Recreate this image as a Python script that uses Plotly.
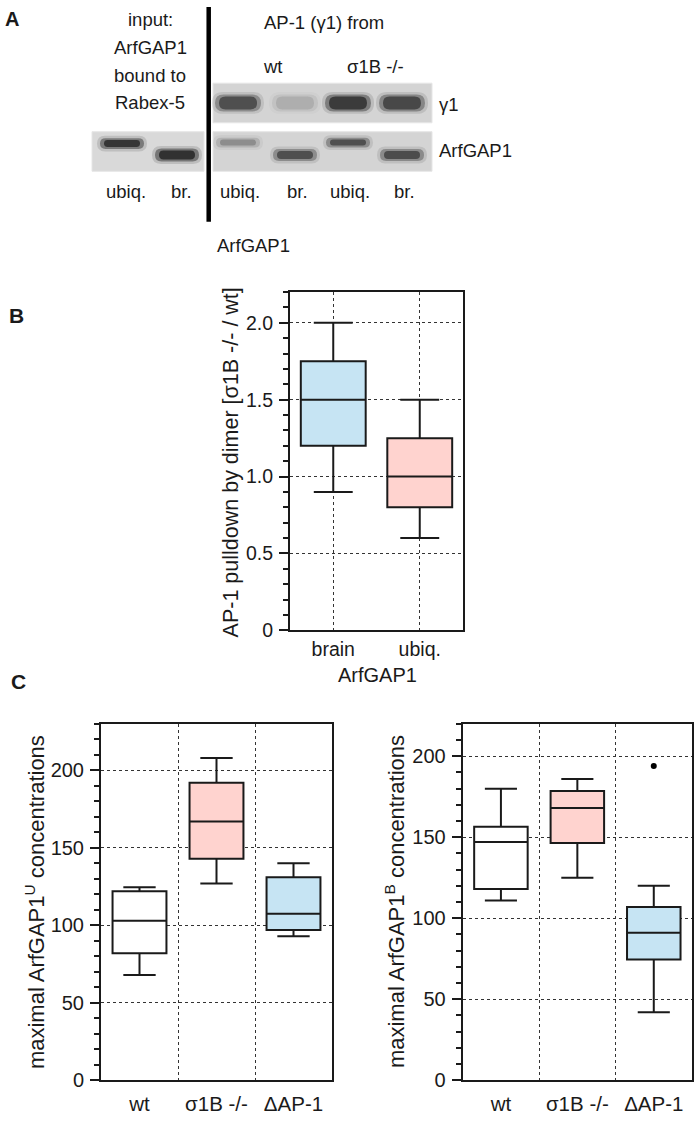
import plotly.graph_objects as go

# ---------------- data ----------------
# Panel B: AP-1 pulldown by dimer (ratio sigma1B-/- / wt)
b_categories = ["brain", "ubiq."]
b_low = [0.9, 0.6]
b_q1 = [1.2, 0.8]
b_median = [1.5, 1.0]
b_q3 = [1.75, 1.25]
b_high = [2.0, 1.5]
b_colors = ["#c6e4f3", "#ffd3cf"]

# Panel C: maximal ArfGAP1 concentrations
c_categories = ["wt", "σ1B -/-", "ΔAP-1"]
c_colors = ["#ffffff", "#ffd3cf", "#c6e4f3"]

cu_low = [68, 127, 93]
cu_q1 = [82, 143, 97]
cu_median = [103, 167, 107.5]
cu_q3 = [122, 192, 131]
cu_high = [124.5, 208, 140]

cb_low = [111, 125, 42]
cb_q1 = [118, 146.5, 74.5]
cb_median = [147, 168, 91]
cb_q3 = [156.5, 178.5, 107]
cb_high = [180, 186, 120]
cb_outlier_cat = ["ΔAP-1"]
cb_outlier_val = [194]

# Panel A: western blot band intensities (0..1)
input_lanes = ["ubiq.", "br."]
input_arfgap1 = [0.95, 1.0]
pulldown_genotypes = ["wt", "σ1B -/-"]
pulldown_lanes = ["ubiq.", "br.", "ubiq.", "br."]
pulldown_gamma1 = [0.72, 0.16, 0.9, 0.78]
pulldown_arfgap1 = [0.33, 0.72, 0.72, 0.74]

# ---------------- style / layout ----------------
W, H = 700, 1123
FONT = "Liberation Sans, Arial, Helvetica, sans-serif"
INK = "#1a1a1a"


def px(x):
    return x / W


def py(y):
    return 1 - y / H


fig = go.Figure()


def add_box(xname, yname, pos, name, lo, q1, med, q3, hi, color, width):
    fig.add_trace(go.Box(
        x=[pos], name=name, lowerfence=[lo], q1=[q1], median=[med], q3=[q3], upperfence=[hi],
        fillcolor=color, line=dict(color=INK, width=2), whiskerwidth=0.6,
        width=width, boxpoints=False, showlegend=False, hoverinfo="skip",
        xaxis=xname, yaxis=yname))


b_pos = list(range(len(b_categories)))
c_pos = list(range(len(c_categories)))

for i, c in enumerate(b_categories):
    add_box("x", "y", b_pos[i], c, b_low[i], b_q1[i], b_median[i], b_q3[i], b_high[i], b_colors[i], 0.75)
for i, c in enumerate(c_categories):
    add_box("x2", "y2", c_pos[i], c, cu_low[i], cu_q1[i], cu_median[i], cu_q3[i], cu_high[i], c_colors[i], 0.70)
for i, c in enumerate(c_categories):
    add_box("x3", "y3", c_pos[i], c, cb_low[i], cb_q1[i], cb_median[i], cb_q3[i], cb_high[i], c_colors[i], 0.70)

common_line = dict(showline=True, mirror=True, linecolor=INK, linewidth=2)
grid = dict(showgrid=True, griddash="dot", gridcolor="#333333", gridwidth=1.3)


def yaxis(anchor, domain, rng, vals, texts, minor_dtick, fsize):
    return dict(anchor=anchor, domain=domain, range=rng, tickmode="array", tickvals=vals, ticktext=texts,
                ticks="outside", ticklen=9, tickwidth=2, tickcolor=INK,
                minor=dict(tickmode="linear", tick0=0, dtick=minor_dtick, ticks="outside",
                           ticklen=5, tickwidth=2, tickcolor=INK, showgrid=False),
                tickfont=dict(family=FONT, size=fsize, color=INK), zeroline=False,
                ticklabelstandoff=2, **common_line, **grid)


def xaxis(domain, anchor, cats, fsize, boundaries, standoff):
    n = len(cats)
    d = dict(domain=domain, anchor=anchor, type="linear", range=[-0.5, n - 0.5],
             tickmode="array", tickvals=list(range(n)), ticktext=cats, ticks="",
             tickfont=dict(family=FONT, size=fsize, color=INK), zeroline=False,
             ticklabelstandoff=standoff, **common_line)
    if boundaries:
        d["showgrid"] = False
        d["minor"] = dict(tickmode="array", tickvals=[k + 0.5 for k in range(n - 1)], ticks="",
                          showgrid=True, griddash="dot", gridcolor="#333333", gridwidth=1.3)
    else:
        d.update(grid)
    return d


b_y_dom = [py(636.5), py(295)]
c_y_dom = [py(1091), py(731)]

fig.update_layout(
    width=W, height=H, autosize=False,
    margin=dict(l=0, r=0, t=0, b=0, pad=0),
    paper_bgcolor="white", plot_bgcolor="white",
    font=dict(family=FONT, color=INK),
    boxmode="overlay",
    xaxis=xaxis([px(290), px(463)], "y", b_categories, 19.5, False, 0),
    yaxis=yaxis("x", b_y_dom, [0, 2.2], [0, 0.5, 1.0, 1.5, 2.0], ["0", "0.5", "1.0", "1.5", "2.0"], 0.1, 19.5),
    xaxis2=xaxis([px(101), px(332)], "y2", c_categories, 20.5, True, 4),
    yaxis2=yaxis("x2", c_y_dom, [0, 230], [0, 50, 100, 150, 200], ["0", "50", "100", "150", "200"], 10, 20),
    xaxis3=xaxis([px(462.7), px(692)], "y3", c_categories, 20.5, True, 4),
    yaxis3=yaxis("x3", c_y_dom, [0, 220], [0, 50, 100, 150, 200], ["0", "50", "100", "150", "200"], 10, 20),
    xaxis4=dict(domain=[0, 1], range=[0, W], visible=False, anchor="y4"),
    yaxis4=dict(domain=[py(260), 1], range=[260, 0], visible=False, anchor="x4"),
)

annotations = []


def ann(text, x, y, size, xref="paper", yref="paper", xanchor="center", bold=False, angle=0):
    if xref == "paper":
        x, y = px(x), py(y)
    annotations.append(dict(text=f"<b>{text}</b>" if bold else text, x=x, y=y, xref=xref, yref=yref,
                            xanchor=xanchor, yanchor="middle", showarrow=False, textangle=angle,
                            font=dict(family=FONT, size=size, color=INK)))


# panel letters
ann("A", 12, 19, 20, bold=True)
ann("B", 16, 319, 21, bold=True)
ann("C", 18, 688, 21, bold=True)

# axis titles
ann("AP-1 pulldown by dimer [σ1B -/- / wt]", 231, 467, 21.5, angle=-90)
ann("ArfGAP1", 377, 682, 20)
ann("maximal ArfGAP1<sup>U</sup> concentrations", 35, 911, 22, angle=-90)
ann("maximal ArfGAP1<sup>B</sup> concentrations", 395, 911, 22, angle=-90)

shapes = []

# outlier points of panel C (right), placed on the data axes
for cat, val in zip(cb_outlier_cat, cb_outlier_val):
    shapes.append(dict(type="circle", xref="x3", yref="y3", xsizemode="pixel", ysizemode="pixel",
                       xanchor=c_categories.index(cat), yanchor=val, x0=-3, x1=3, y0=-3, y1=3,
                       fillcolor="black", line=dict(width=0), layer="above"))

# ---------------- panel A (blot drawing) ----------------
BLOT_BG = "#d4d4d4"
input_box = (92, 133, 204, 173)
upper_box = (213, 84, 432, 124)
lower_box = (213, 133, 432, 173)
for (x0, y0, x1, y1), col in [(input_box, "#d9d9d9"), (upper_box, BLOT_BG), (lower_box, BLOT_BG)]:
    shapes.append(dict(type="rect", xref="x4", yref="y4", x0=x0, y0=y0, x1=x1, y1=y1,
                       fillcolor=col, line=dict(width=1, color="#e6e6e6"), layer="below"))


def capsule(xc, yc, w, h):
    x0, x1 = xc - w / 2, xc + w / 2
    y0, y1 = yc - h / 2, yc + h / 2
    r = min(h / 2, w / 2)
    return (f"M {x0 + r},{y0} L {x1 - r},{y0} Q {x1},{y0} {x1},{yc} Q {x1},{y1} {x1 - r},{y1} "
            f"L {x0 + r},{y1} Q {x0},{y1} {x0},{yc} Q {x0},{y0} {x0 + r},{y0} Z")


def band(xc, yc, w, h, inten):
    for dw, dh, op in [(8, 8, 0.14), (2, 3, 0.42), (-6, -1, 0.7)]:
        shapes.append(dict(type="path", xref="x4", yref="y4", path=capsule(xc, yc, w + dw, max(h + dh, 2)),
                           fillcolor=f"rgba(20,20,20,{op * inten:.3f})", line=dict(width=0), layer="below"))


input_x = [122, 177]
pulldown_x = [238, 295, 348, 402]
arf_band_y = {"ubiq.": (144, 8), "br.": (156.5, 10)}

for i, lane in enumerate(input_lanes):
    yc, h = arf_band_y[lane]
    band(input_x[i], yc + (1 if lane == "ubiq." else 0), 42, h, input_arfgap1[i])
for i, lane in enumerate(pulldown_lanes):
    band(pulldown_x[i], 104, 44, 14, pulldown_gamma1[i])
    yc, h = arf_band_y[lane]
    band(pulldown_x[i], yc, 42, h - 1, pulldown_arfgap1[i])

# black separator bar
shapes.append(dict(type="line", xref="x4", yref="y4", x0=208.7, x1=208.7, y0=7, y1=224,
                   line=dict(color="black", width=4.5)))

A_SIZE = 18.5
for t, yy in zip(["input:", "ArfGAP1", "bound to", "Rabex-5"], [20, 48, 76, 104]):
    ann(t, 150, yy, A_SIZE, xref="x4", yref="y4")
ann("AP-1 (γ1) from", 324, 23, A_SIZE, xref="x4", yref="y4")
ann(pulldown_genotypes[0], (pulldown_x[0] + pulldown_x[1]) / 2 + 6, 67, A_SIZE, xref="x4", yref="y4")
ann(pulldown_genotypes[1], (pulldown_x[2] + pulldown_x[3]) / 2, 67, A_SIZE, xref="x4", yref="y4")
ann("γ1", 437, 106, A_SIZE, xref="x4", yref="y4", xanchor="left")
ann("ArfGAP1", 437, 152, A_SIZE, xref="x4", yref="y4", xanchor="left")
for i, lane in enumerate(input_lanes):
    ann(lane, input_x[i] + 4, 193, A_SIZE, xref="x4", yref="y4")
for i, lane in enumerate(pulldown_lanes):
    ann(lane, pulldown_x[i] + 2, 193, A_SIZE, xref="x4", yref="y4")
ann("ArfGAP1", 253, 248, A_SIZE, xref="x4", yref="y4")

fig.update_layout(annotations=annotations, shapes=shapes)

# remove the default page margin so the 700x1123 figure fills the window exactly
fig.write_html("out.html", config={"displayModeBar": False},
               post_script="document.body.style.margin='0';document.body.style.overflow='hidden';")
